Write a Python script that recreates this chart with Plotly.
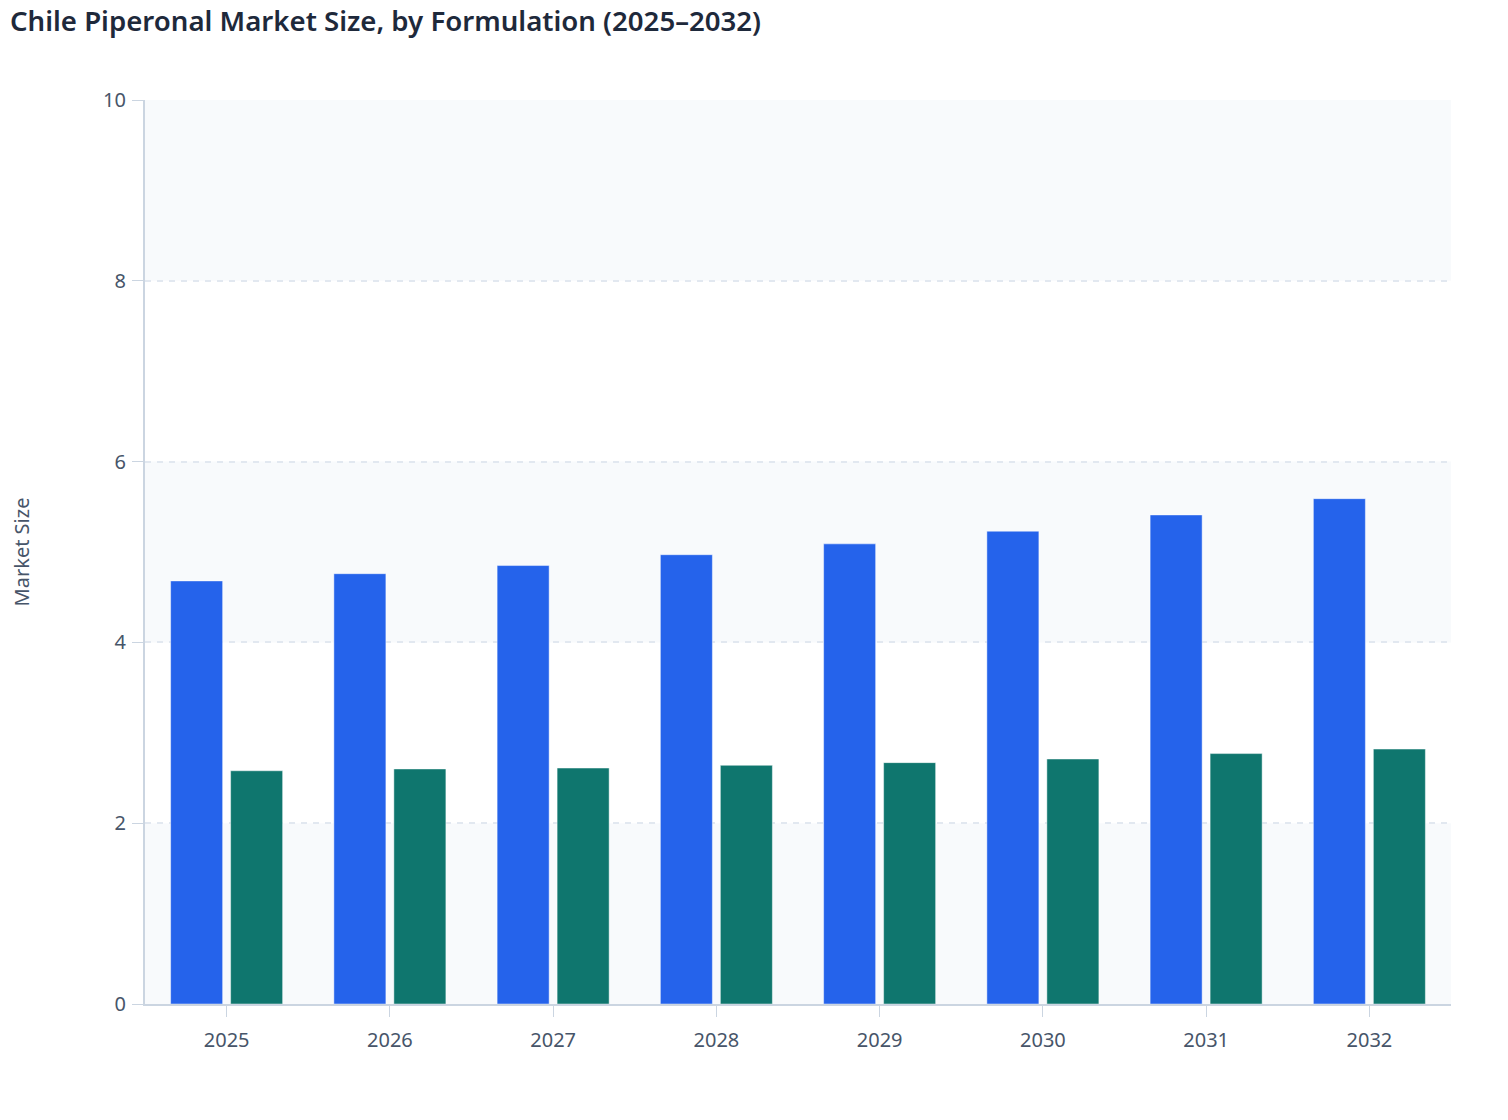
import plotly.graph_objects as go

# values
years = ["2025", "2026", "2027", "2028", "2029", "2030", "2031", "2032"]
liquid = [4.68, 4.76, 4.85, 4.97, 5.09, 5.23, 5.41, 5.59]
powder = [2.58, 2.60, 2.61, 2.64, 2.67, 2.71, 2.77, 2.82]
y_ticks = [0, 2, 4, 6, 8, 10]
band_edges = [(0, 2), (4, 6), (8, 10)]

fig = go.Figure()

fig.add_trace(go.Bar(x=years, y=liquid, name="Liquid",
                     marker=dict(color="#2563EB",
                                 line=dict(color="rgba(255,255,255,0.45)", width=1))))
fig.add_trace(go.Bar(x=years, y=powder, name="Powder",
                     marker=dict(color="#0F766E",
                                 line=dict(color="rgba(255,255,255,0.45)", width=1))))

# alternating shaded bands behind the bars
for lo, hi in band_edges:
    fig.add_shape(type="rect", xref="paper", yref="y", x0=0, x1=1, y0=lo, y1=hi,
                  fillcolor="#F8FAFC", line=dict(width=0), layer="below")

fig.update_layout(
    width=1508, height=1120,
    margin=dict(l=137, r=65, t=92, b=124),
    paper_bgcolor="white", plot_bgcolor="white",
    font=dict(family="Noto Sans", size=20, color="#475569"),
    title=dict(text="Chile Piperonal Market Size, by Formulation (2025–2032)",
               x=0, xref="container", xanchor="left",
               y=0.988, yref="container", yanchor="middle",
               pad=dict(l=2),
               font=dict(size=27.6, color="#1E293B", weight=600)),
    showlegend=False,
    barmode="group", bargap=0.265, bargroupgap=0.133,
)

fig.update_xaxes(showline=True, linecolor="#CBD5E1", linewidth=2,
                 ticks="outside", ticklen=11, tickcolor="#CBD5E1",
                 ticklabelstandoff=6,
                 showgrid=False, tickfont=dict(size=20, color="#475569"))
fig.update_yaxes(range=[0, 10], tickvals=y_ticks, showline=True,
                 linecolor="#CBD5E1", linewidth=2,
                 ticks="outside", ticklen=11, tickcolor="#CBD5E1",
                 ticklabelstandoff=2, automargin=False,
                 showgrid=True, gridcolor="#E2E8F0", griddash="6px,6px", gridwidth=1.5,
                 zeroline=False,
                 title=dict(text="Market Size", standoff=77,
                            font=dict(size=20, color="#475569")),
                 tickfont=dict(size=20, color="#475569"))

fig.write_html("out.html")
